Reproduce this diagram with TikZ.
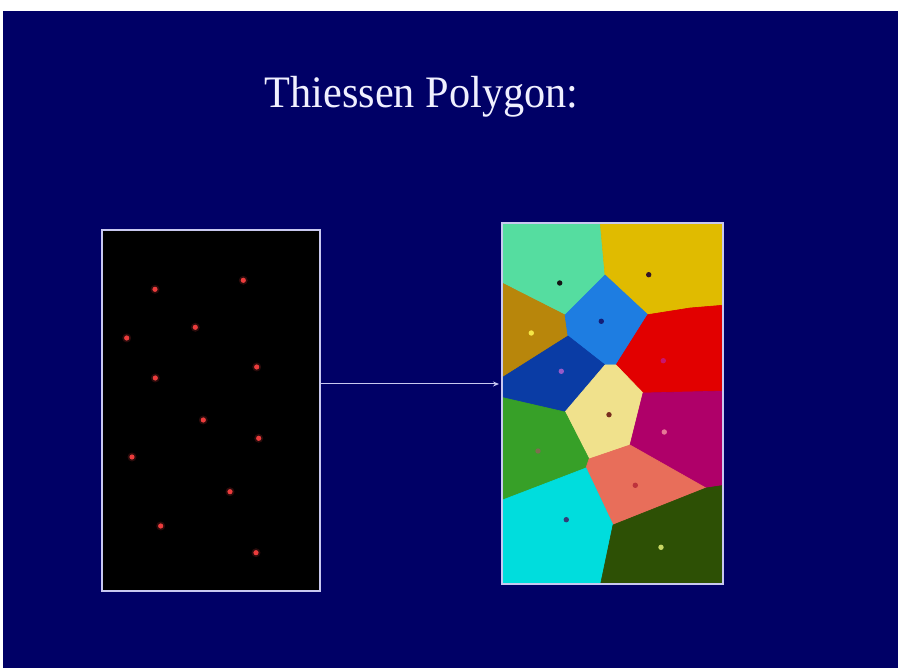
\documentclass[tikz,border=0pt]{standalone}
\usepackage{fontspec}
\setmainfont{Liberation Serif}
\usetikzlibrary{arrows.meta}
\definecolor{slidebg}{RGB}{0,0,102}
\definecolor{frameline}{RGB}{200,200,240}
\definecolor{cTeal}{RGB}{85,221,160}
\definecolor{cGold}{RGB}{224,187,0}
\definecolor{cBrown}{RGB}{184,134,11}
\definecolor{cBlue}{RGB}{30,125,225}
\definecolor{cRed}{RGB}{226,0,0}
\definecolor{cDBlue}{RGB}{10,60,165}
\definecolor{cPale}{RGB}{240,225,140}
\definecolor{cGreen}{RGB}{55,160,40}
\definecolor{cMag}{RGB}{175,0,105}
\definecolor{cSalmon}{RGB}{232,110,90}
\definecolor{cCyan}{RGB}{0,221,221}
\definecolor{cDGreen}{RGB}{45,80,5}
\definecolor{ptred}{RGB}{235,60,60}
\definecolor{sA}{RGB}{20,20,20}
\definecolor{sB}{RGB}{50,20,40}
\definecolor{sC}{RGB}{20,30,120}
\definecolor{sD}{RGB}{245,230,70}
\definecolor{sE}{RGB}{150,90,200}
\definecolor{sF}{RGB}{200,20,110}
\definecolor{sG}{RGB}{120,45,30}
\definecolor{sH}{RGB}{230,120,150}
\definecolor{sI}{RGB}{125,110,80}
\definecolor{sJ}{RGB}{190,50,60}
\definecolor{sK}{RGB}{50,60,120}
\definecolor{sL}{RGB}{200,215,100}
\tikzset{
  panel/.style={draw=frameline, line width=2pt, inner sep=0pt, outer sep=0pt},
  cell/.style={fill=#1, draw=#1, line width=0.6pt},
  site/.style={fill=#1, draw=none},
  arrowline/.style={draw=frameline, line width=1pt, -{Stealth[length=6pt,width=5pt]}},
}
\begin{document}
\begin{tikzpicture}[x=1pt,y=-1pt]
\useasboundingbox (0,0) rectangle (898,668);
\fill[white] (0,0) rectangle (898,668);
\fill[slidebg] (3,11) rectangle (898,668);

% title
\node[text=white!94!blue, font=\fontsize{45}{50}\selectfont, anchor=base, xscale=0.94] (title) at (421.5,108) {Thiessen Polygon:};

% left panel
\node[panel, fill=black, minimum width=218pt, minimum height=361pt] (L) at (211,410.5) {};
\foreach \px/\py in {155/289.3, 243.3/280.3, 195.3/327.3, 126.7/338, 256.7/367, 155.3/378, 203.3/420, 258.7/438.3, 132/457, 230/491.7, 160.7/526, 256/552.7}{
  \fill[ptred!18!black] (\px,\py) circle (4.5pt);
  \fill[ptred] (\px,\py) circle (2.6pt);
}

% right panel
\node[panel, minimum width=221pt, minimum height=361pt] (R) at (612.5,403.5) {};
\begin{scope}
\clip (502,223) rectangle (723,584);
\filldraw[cell=cTeal] (500,220) -- (600,220) -- (605,275) -- (565,315) -- (500,282) -- cycle;
\filldraw[cell=cGold] (600,220) -- (726,220) -- (726,305) -- (690,308) -- (647.7,314.7) -- (605,275) -- cycle;
\filldraw[cell=cBrown] (500,282) -- (565,315) -- (568,336) -- (500,379) -- cycle;
\filldraw[cell=cBlue] (605,275) -- (647.7,314.7) -- (616,365) -- (605,365) -- (568,336) -- (565,315) -- cycle;
\filldraw[cell=cRed] (647.7,314.7) -- (690,308) -- (726,305) -- (726,391) -- (643,393) -- (616,365) -- cycle;
\filldraw[cell=cDBlue] (500,379) -- (568,336) -- (605,365) -- (565,412) -- (500,397) -- cycle;
\filldraw[cell=cPale] (605,365) -- (616,365) -- (643,393) -- (630,445) -- (589,459) -- (565,412) -- cycle;
\filldraw[cell=cMag] (643,393) -- (726,391) -- (726,485) -- (706,488) -- (630,445) -- cycle;
\filldraw[cell=cGreen] (500,397) -- (565,412) -- (589,459) -- (586,468) -- (500,501) -- cycle;
\filldraw[cell=cSalmon] (589,459) -- (630,445) -- (706,488) -- (613,525) -- (586,468) -- cycle;
\filldraw[cell=cCyan] (500,501) -- (586,468) -- (613,525) -- (600,587) -- (500,587) -- cycle;
\filldraw[cell=cDGreen] (613,525) -- (706,488) -- (726,485) -- (726,587) -- (600,587) -- cycle;
\end{scope}
\fill[site=sA] (559.7,283) circle (2.7pt);
\fill[site=sB] (648.7,274.7) circle (2.7pt);
\fill[site=sC] (601.3,321.3) circle (2.7pt);
\fill[site=sD] (531.3,333) circle (2.7pt);
\fill[site=sE] (561.3,371.3) circle (2.7pt);
\fill[site=sF] (663.3,360.7) circle (2.7pt);
\fill[site=sG] (609,414.7) circle (2.7pt);
\fill[site=sH] (664.3,432) circle (2.7pt);
\fill[site=sI] (538,451) circle (2.7pt);
\fill[site=sJ] (635.3,485.3) circle (2.7pt);
\fill[site=sK] (566.3,519.7) circle (2.7pt);
\fill[site=sL] (661,547.3) circle (2.7pt);
\node[panel, minimum width=221pt, minimum height=361pt] at (R) {};

% connector
\coordinate (arrowy) at (0,384);
\draw[arrowline, shorten >=3pt] (L.east |- arrowy) -- (R.west |- arrowy);
\end{tikzpicture}
\end{document}
